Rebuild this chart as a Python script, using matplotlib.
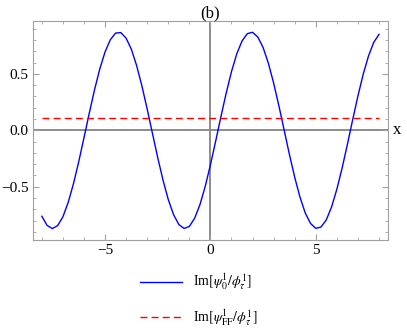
import matplotlib
matplotlib.use("Agg")
import matplotlib.pyplot as plt
from matplotlib.ticker import MultipleLocator

# values
x_vals = [-8.00 + 0.25 * i for i in range(65)]
im_psi0 = [-0.761, -0.842, -0.870, -0.844, -0.766, -0.639, -0.474, -0.279,
           -0.066, 0.150, 0.358, 0.543, 0.694, 0.802, 0.861, 0.865,
           0.816, 0.717, 0.572, 0.392, 0.188, -0.028, -0.242, -0.441,
           -0.613, -0.746, -0.834, -0.869, -0.851, -0.779, -0.660, -0.499,
           -0.306, -0.095, 0.122, 0.331, 0.520, 0.677, 0.791, 0.856,
           0.868, 0.826, 0.733, 0.594, 0.418, 0.216, 0.001, -0.215,
           -0.416, -0.592, -0.732, -0.825, -0.868, -0.856, -0.792, -0.678,
           -0.521, -0.333, -0.124, 0.094, 0.305, 0.497, 0.658, 0.779, 0.850]
ff_x = [-8.0, 8.0]
im_psiFF = [0.106, 0.106]

xticks = [-5, 0, 5]
yticks = [-0.5, 0.0, 0.5]
ytick_labels = ["\u22120.5", "0.0", "0.5"]
xtick_labels = ["\u22125", "0", "5"]

plt.rcParams['font.family'] = ['Liberation Serif', 'DejaVu Serif']
plt.rcParams['mathtext.fontset'] = 'stix'

fig = plt.figure(figsize=(4.07, 3.35), dpi=100)
ax = fig.add_axes([0.081, 0.284, 0.872, 0.653])

frame_col = '#a0a0a0'
ax.axhline(0, color='#8c8c8c', lw=1.4, zorder=1)
ax.axvline(0, color='#8c8c8c', lw=1.4, zorder=1)

ax.plot(x_vals, im_psi0, color='#0000ff', lw=1.0,
        label=r'Im$[\psi_0^1/\phi_\tau^1]$', zorder=3)
ax.plot(ff_x, im_psiFF, color='#ff0000', lw=1.0, dashes=(5, 3),
        label=r'Im$[\psi_{\mathrm{FF}}^1/\phi_\tau^1]$', zorder=3)

ax.set_xlim(-8.42, 8.42)
ax.set_ylim(-0.97, 0.967)
ax.set_xticks(xticks)
ax.set_xticklabels(xtick_labels)
ax.set_yticks(yticks)
ax.set_yticklabels(ytick_labels)
ax.xaxis.set_minor_locator(MultipleLocator(1))
ax.yaxis.set_minor_locator(MultipleLocator(0.1))
ax.tick_params(which='both', direction='in', top=True, right=True,
               color=frame_col, labelsize=11, labelcolor='black', pad=3)
ax.tick_params(which='major', length=4, width=0.8)
ax.tick_params(which='minor', length=2, width=0.6)
for sp in ax.spines.values():
    sp.set_color(frame_col)
    sp.set_linewidth(0.8)

ax.set_title('(b)', fontsize=12, pad=1)
ax.text(1.015, 0.5, 'x', transform=ax.transAxes, fontsize=12,
        va='center', ha='left')

fig.legend(loc='center', bbox_to_anchor=(0.488, 0.105), frameon=False,
           fontsize=10, handlelength=3.0, labelspacing=1.1, handletextpad=0.8)

fig.savefig('out.png', dpi=100)
